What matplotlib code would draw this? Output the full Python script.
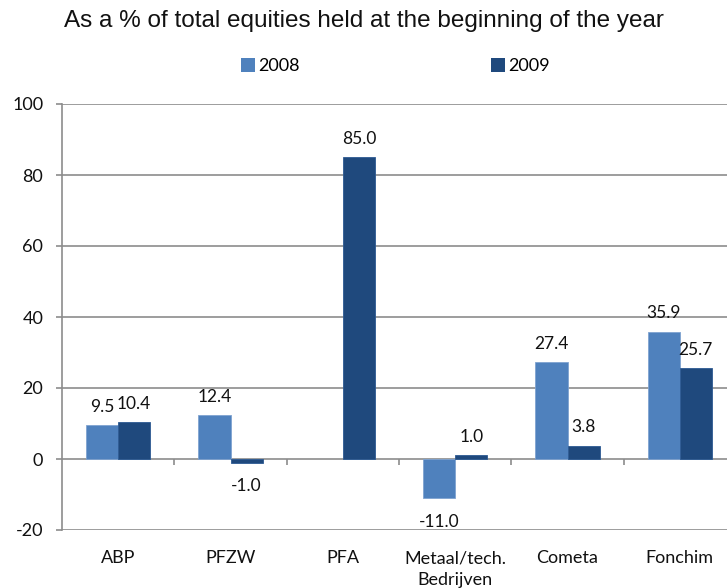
import matplotlib
matplotlib.use("Agg")
import matplotlib.pyplot as plt
from matplotlib.patches import Patch
import numpy as np

plt.rcParams["axes.unicode_minus"] = False

categories = ["ABP", "PFZW", "PFA", "Metaal/tech.\nBedrijven", "Cometa", "Fonchim"]
series_names = ["2008", "2009"]
values_2008 = [9.5, 12.4, np.nan, -11.0, 27.4, 35.9]
values_2009 = [10.4, -1.0, 85.0, 1.0, 3.8, 25.7]
y_ticks = [-20, 0, 20, 40, 60, 80, 100]

c2008 = "#4F81BD"
c2009 = "#1F497D"
grid_c = "#8C8C8C"
font = ["Lato", "DejaVu Sans"]

W, H = 727, 588
fig = plt.figure(figsize=(W / 100, H / 100), dpi=100)
ax = fig.add_axes([62 / W, (H - 530) / H, (736 - 62) / W, (530 - 104) / H])

x = np.arange(len(categories))
bw = 1 / 3.5
b1 = ax.bar(x - bw / 2, values_2008, bw, color=c2008, edgecolor="#7FA3D0", linewidth=0.6, zorder=3)
b2 = ax.bar(x + bw / 2, values_2009, bw, color=c2009, edgecolor="#2C5A93", linewidth=0.6, zorder=3)

for bars, vals in ((b1, values_2008), (b2, values_2009)):
    for rect, v in zip(bars, vals):
        if np.isnan(v):
            continue
        cx = rect.get_x() + rect.get_width() / 2
        off = 13 if v >= 0 else -17
        ax.annotate(f"{v:.1f}", (cx, v), xytext=(0, off), textcoords="offset points",
                    ha="center", va="center", fontsize=12.5, family=font, color="#111111")

ax.set_xlim(-0.5, len(categories) - 0.5)
ax.set_ylim(min(y_ticks), max(y_ticks))
ax.set_yticks(y_ticks)
for t in y_ticks:
    ax.axhline(t, color=grid_c, lw=1.2, zorder=1)

# category axis line at zero with tick marks between categories
bounds = np.arange(len(categories) + 1) - 0.5
ax.plot(bounds[1:-1], np.zeros(len(bounds) - 2), ls="none", marker=3, markersize=4.5,
        color=grid_c, mew=1.2, zorder=2, clip_on=False)

for s in ("top", "right", "bottom"):
    ax.spines[s].set_visible(False)
ax.spines["left"].set_color(grid_c)
ax.spines["left"].set_linewidth(1.2)

ax.set_xticks(x)
ax.set_xticklabels(categories, fontsize=13, family=font, color="#111111", linespacing=1.45)
ax.tick_params(axis="x", length=0, pad=14.5)
ax.tick_params(axis="y", length=4.5, width=1.2, color=grid_c, pad=9, labelsize=13,
               labelcolor="#111111")
for lab in ax.get_yticklabels():
    lab.set_family(font)

fig.text(0.5, 1 - 21 / H, "As a % of total equities held at the beginning of the year",
         ha="center", va="center", fontsize=17.5, family=["Liberation Sans", "DejaVu Sans"],
         color="#111111")

handles = [Patch(facecolor=c2008, edgecolor="none"), Patch(facecolor=c2009, edgecolor="none")]
fig.legend(handles, series_names, loc="center", bbox_to_anchor=(395 / W, 1 - 66 / H),
           ncol=2, frameon=False, handlelength=0.78, handleheight=0.78, handletextpad=0.17,
           columnspacing=10.6, prop={"family": font, "size": 13})

fig.savefig("out.png", dpi=100)
